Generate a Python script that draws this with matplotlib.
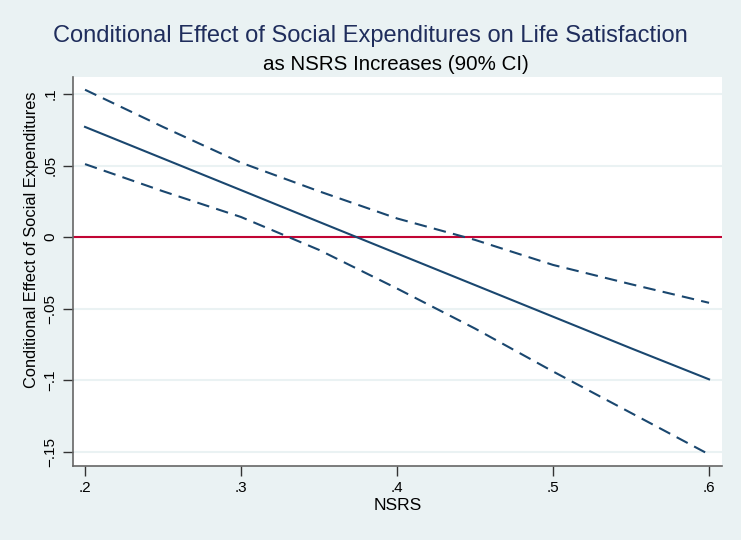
import matplotlib.pyplot as plt

plt.rcParams['font.family'] = ['Liberation Sans', 'DejaVu Sans']

# NSRS values and estimated effects
nsrs = [0.20, 0.25, 0.30, 0.35, 0.40, 0.45, 0.50, 0.55, 0.60]
effect = [0.077, 0.0549, 0.0328, 0.0106, -0.0115, -0.0336, -0.0557, -0.0778, -0.0995]
upper = [0.103, 0.077, 0.052, 0.032, 0.013, -0.002, -0.0195, -0.033, -0.046]
lower = [0.051, 0.032, 0.014, -0.009, -0.036, -0.064, -0.094, -0.123, -0.152]

xticks = [0.2, 0.3, 0.4, 0.5, 0.6]
xlabels = ['.2', '.3', '.4', '.5', '.6']
yticks = [0.1, 0.05, 0, -0.05, -0.1, -0.15]
ylabels = ['.1', '.05', '0', '\u2212.05', '\u2212.1', '\u2212.15']

navy = '#1a476f'
bg = '#eaf2f3'

fig = plt.figure(figsize=(7.41, 5.40), dpi=100, facecolor=bg)
ax = fig.add_axes([73/741, 1-466/540, (722-73)/741, (466-77)/540])
ax.set_facecolor('white')

# gridlines
for y in yticks:
    ax.axhline(y, color=bg, lw=1.5, zorder=1)
ax.axhline(0, color='#c10534', lw=1.5, zorder=2)

ax.plot(nsrs, effect, color=navy, lw=1.5, zorder=3)
ax.plot(nsrs, upper, color=navy, lw=1.5, ls=(0, (6, 3.5)), zorder=3)
ax.plot(nsrs, lower, color=navy, lw=1.5, ls=(0, (6, 3.5)), zorder=3)

ax.set_xlim(0.1923, 0.6083)
ax.set_ylim(-0.1601, 0.1119)
ax.set_xticks(xticks)
ax.set_xticklabels(xlabels)
ax.set_yticks(yticks)
ax.set_yticklabels(ylabels, rotation=90, va='center')

for s in ['top', 'right']:
    ax.spines[s].set_visible(False)
for s in ['left', 'bottom']:
    ax.spines[s].set_color('#666666')
    ax.spines[s].set_linewidth(1.2)
ax.tick_params(length=7, width=1, color='#333333', labelsize=11, pad=4)

ax.set_xlabel('NSRS', fontsize=12.5, va='center')
ax.xaxis.set_label_coords(0.5, (466-505.5)/389)
ax.set_ylabel('Conditional Effect of Social Expenditures', fontsize=11.8, va='center')
ax.yaxis.set_label_coords((32-73)/649, (466-240)/389)

fig.text(370/741, 1-42/540, 'Conditional Effect of Social Expenditures on Life Satisfaction',
         ha='center', va='baseline', fontsize=17, color='#1f2d5c')
fig.text(396/741, 1-70/540, 'as NSRS Increases (90% CI)', ha='center', va='baseline',
         fontsize=14.8, color='black')

fig.savefig('out.png', dpi=100, facecolor=bg)
